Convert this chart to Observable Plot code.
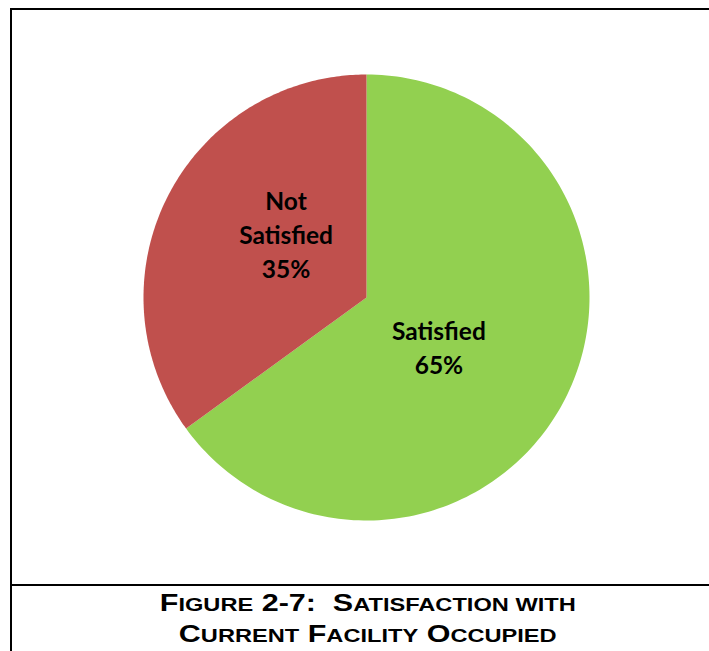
<!DOCTYPE html>
<html>
<head>
<meta charset="utf-8">
<script src="https://cdn.jsdelivr.net/npm/d3@7"></script>
<script src="https://cdn.jsdelivr.net/npm/@observablehq/plot@0.6"></script>
<style>
  html, body { margin: 0; padding: 0; background: #fff; }
  #wrap { position: relative; width: 709px; height: 651px; overflow: hidden; }
  #frame { position: absolute; left: 10px; top: 8px; width: 760px; height: 700px;
           border-left: 2px solid #000; border-top: 2px solid #000; box-sizing: border-box; }
  #divider { position: absolute; left: 10px; top: 584px; width: 760px; height: 2px; background: #000; }
  #chart { position: absolute; left: 0; top: 0; }
  .tline { position: absolute; left: 13px; width: 709px; height: 34px; text-align: center;
           font-family: "Liberation Sans", Arial, sans-serif; font-weight: bold;
           font-size: 24px; line-height: 34px; color: #000; white-space: pre; }
  .tline > span.inner { display: inline-block; transform: scaleX(1.27); transform-origin: center; }
  .sc { font-size: 18.6px; }
</style>
</head>
<body>
<div id="wrap">
  <div id="chart"></div>
  <div id="frame"></div>
  <div id="divider"></div>
  <div class="tline" style="top:586px"><span class="inner">F<span class="sc">IGURE</span> 2-7:  S<span class="sc">ATISFACTION WITH</span></span></div>
  <div class="tline" style="top:617px;height:34px;overflow:visible"><span class="inner">C<span class="sc">URRENT</span> F<span class="sc">ACILITY</span> O<span class="sc">CCUPIED</span></span></div>
</div>
<script>
// ---- data ----
const categories = ["Satisfied", "Not Satisfied"];
const values = [65, 35];
const colors = ["#92D050", "#C0504D"];
const labelLines = ["Satisfied\n65%", "Not\nSatisfied\n35%"];

// ---- build pie geometry (unit circle, clockwise from 12 o'clock) ----
const data = categories.map((c, i) => ({category: c, value: values[i], label: labelLines[i]}));
const arcs = d3.pie().sort(null).value(d => d.value)(data);
const N = 180;
const pts = [];
for (const a of arcs) {
  pts.push({category: a.data.category, u: 0, v: 0});
  for (let k = 0; k <= N; k++) {
    const t = a.startAngle + (a.endAngle - a.startAngle) * k / N;
    pts.push({category: a.data.category, u: Math.sin(t), v: Math.cos(t)});
  }
}
const labelR = 0.43;
const labels = arcs.map(a => {
  const m = (a.startAngle + a.endAngle) / 2;
  return {category: a.data.category, text: a.data.label, u: labelR * Math.sin(m), v: labelR * Math.cos(m)};
});

// ---- layout: pie centre (366,297), radius 223px ----
const W = 709, H = 584, cx = 366, cy = 297, R = 223;
const textStyle = {fontFamily: "Lato", fontWeight: "bold", fontSize: 24.5, lineHeight: 1.39, fill: "#000"};
const chart = Plot.plot({
  width: W, height: H,
  margin: 0,
  x: {domain: [-cx / R, (W - cx) / R], axis: null},
  y: {domain: [(cy - H) / R, cy / R], axis: null},
  color: {domain: categories, range: colors},
  marks: [
    Plot.line(pts, {x: "u", y: "v", z: "category", fill: "category", stroke: "none", curve: "linear-closed"}),
    Plot.text(labels.filter(d => d.category === "Satisfied"), {
      x: "u", y: "v", text: "text", dx: -13, dy: 5, ...textStyle
    }),
    Plot.text(labels.filter(d => d.category === "Not Satisfied"), {
      x: "u", y: "v", text: "text", dx: 5, dy: -21, ...textStyle
    })
  ]
});
document.getElementById("chart").appendChild(chart);
</script>
</body>
</html>
